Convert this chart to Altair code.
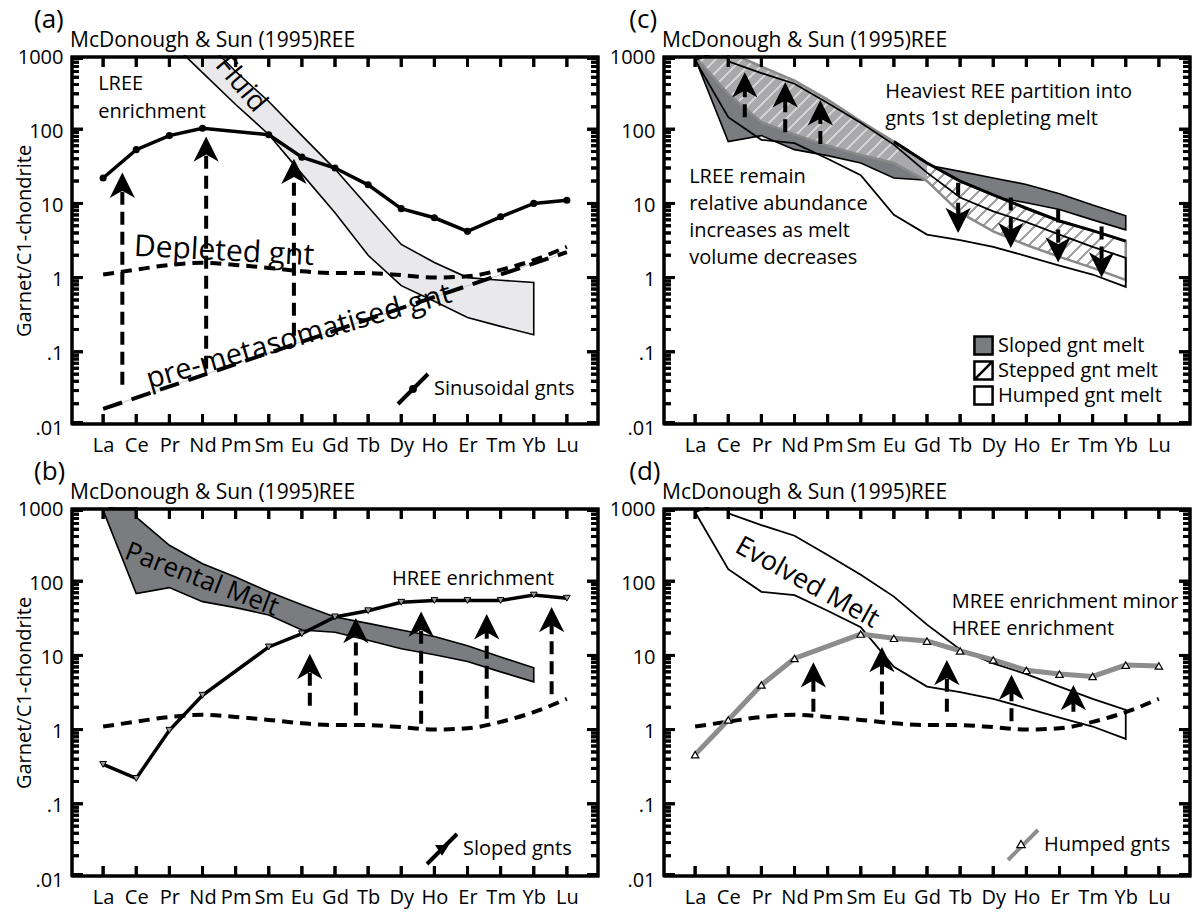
import math
import altair as alt
import pandas as pd

FONT = "Open Sans"
ELEMENTS = ["La", "Ce", "Pr", "Nd", "Pm", "Sm", "Eu", "Gd", "Tb", "Dy", "Ho", "Er", "Tm", "Yb", "Lu"]
IDX = {e: k + 1 for k, e in enumerate(ELEMENTS)}
Y_MAJOR = [0.01, 0.1, 1, 10, 100, 1000]
Y_MINOR = [m * 10.0 ** k for k in range(-2, 3) for m in range(2, 10)]
X_MIN, X_MAX = 0, 16
Y_MIN, Y_MAX = 0.01, 1000

# ---- data (Garnet / C1-chondrite) ----
SINUSOIDAL = [22, 53, 82, 103, None, 84, 42, 30, 17.8, 8.5, 6.4, 4.2, 6.6, 10, 11]
SLOPED = [0.34, 0.22, 0.98, 2.9, None, 13, 19.6, 33, 40, 52, 55, 55, 55, 65, 59]
HUMPED = [0.46, 1.35, 4.0, 9.1, None, 19.4, 17, 15.6, 11.5, 8.7, 6.3, 5.6, 5.2, 7.4, 7.2]
DEPLETED = [1.1, 1.28, 1.48, 1.58, 1.48, 1.35, 1.22, 1.15, 1.15, 1.08, 1.0, 1.04, 1.27, 1.72, 2.6]
PRE_META_EL = ["La", "Lu"]
PRE_META = [0.017, 2.2]

FLUID_UP_EL = ["Nd", "Pm", "Sm", "Eu", "Gd", "Tb", "Dy", "Ho", "Er", "Tm", "Yb"]
FLUID_UP = [1700, 600, 236, 82, 29, 9, 2.8, 1.6, 1.0, 0.92, 0.86]
FLUID_LO_EL = ["Yb", "Tm", "Er", "Ho", "Dy", "Tb", "Gd", "Eu", "Sm", "Pm", "Nd", "Pr"]
FLUID_LO = [0.17, 0.22, 0.29, 0.48, 0.78, 2.0, 7.5, 25, 85, 215, 580, 1560]

PAR_UP_EL = ["La", "Ce", "Ce", "Pr", "Nd", "Pm", "Sm", "Eu", "Gd", "Tb", "Dy", "Ho", "Er", "Tm", "Yb"]
PAR_UP = [900, 1300, 730, 305, 172, 114, 72, 48, 33, 27, 22, 18, 13.5, 9.5, 6.8]
PAR_LO_EL = ["Yb", "Tm", "Er", "Ho", "Dy", "Tb", "Gd", "Eu", "Sm", "Pm", "Nd", "Pr", "Ce"]
PAR_LO = [4.4, 6.0, 8.3, 10.2, 12.3, 16, 20.5, 22, 35, 44, 53, 82, 68]

EVO_UP_EL = ["La", "Ce", "Ce", "Pr", "Nd", "Pm", "Sm", "Eu", "Gd", "Tb", "Dy", "Ho", "Er", "Tm", "Yb"]
EVO_UP = [850, 1300, 820, 570, 410, 225, 122, 62, 26, 12, 7.8, 5.6, 3.8, 2.6, 1.85]
EVO_LO_EL = ["Yb", "Tm", "Er", "Ho", "Dy", "Tb", "Gd", "Eu", "Sm", "Pm", "Nd", "Pr", "Ce"]
EVO_LO = [0.75, 1.1, 1.45, 1.95, 2.6, 3.2, 3.8, 7, 24, 40, 65, 72, 145]

STEP_UP_EL = ["La", "Ce", "Pr", "Nd", "Pm", "Sm", "Eu", "Gd", "Tb", "Dy", "Ho", "Er", "Tm", "Yb"]
STEP_UP = [950, 1100, 700, 450, 250, 128, 68, 35, 20, 13, 8.6, 5.8, 4.3, 3.1]
STEP_LO_EL = ["Yb", "Tm", "Er", "Ho", "Dy", "Tb", "Gd", "Eu", "Sm", "Pm", "Nd", "Pr", "Ce"]
STEP_LO = [0.93, 1.35, 1.9, 2.75, 4.2, 7.5, 20, 35, 45, 60, 85, 125, 300]

# arrows: position (element index), start value, tip value
ARR_A_X = [1.58, 4.11, 6.76]
ARR_A_FROM = [0.036, 0.059, 0.165]
ARR_A_TO = [26, 80, 40]
ARR_B_X = [7.24, 8.63, 10.6, 12.58, 14.54]
ARR_B_FROM = [2.1, 1.55, 1.2, 1.4, 3.0]
ARR_B_TO = [10.5, 32, 39, 36, 45]
ARR_C_UP_X = [2.5, 3.72, 4.78]
ARR_C_UP_FROM = [145, 91, 63]
ARR_C_UP_TO = [585, 430, 245]
ARR_C_DN_X = [8.94, 10.53, 11.96, 13.27]
ARR_C_DN_FROM = [19, 12, 8.3, 4.9]
ARR_C_DN_TO = [4.0, 2.5, 1.6, 1.0]
ARR_D_X = [4.57, 6.64, 8.6, 10.55, 12.42]
ARR_D_FROM = [1.74, 1.6, 1.74, 1.3, 1.74]
ARR_D_TO = [8.1, 13, 8.7, 5.5, 4.0]

SOURCE = "McDonough & Sun (1995)REE"
LEG_C = ["Sloped gnt melt", "Stepped gnt melt", "Humped gnt melt"]

# ---- styling ----
W, H = 530, 371
DARK = "#7b7c80"
FLUID_FILL = "#e9e9ec"
STEP_GRAY = "#a9a9ab"
CLEAR = "rgba(255,255,255,0)"
UP_HEAD = "M0,0L0.8,1.6L0,1.15L-0.8,1.6Z"
DOWN_HEAD = "M0,0L0.8,-1.6L0,-1.15L-0.8,-1.6Z"
LINE_GLYPH = "M-1,1L1,-1"
DOT_GLYPH = "M-1,1L1,-1M0.13,0A0.13,0.13,0,1,1,-0.13,0A0.13,0.13,0,1,1,0.13,0Z"
TRI_GLYPH = "M-1,1L1,-1M-0.22,-0.14L0.22,-0.14L0,0.2Z"
SQ = "M-1,-1L1,-1L1,1L-1,1Z"
SQ_DIAG = "M-1,-1L1,-1L1,1L-1,1ZM-1,1L1,-1"
PX_PER_X = W / (X_MAX - X_MIN)
PX_PER_DECADE = H / (math.log10(Y_MAX) - math.log10(Y_MIN))
FRAME_INSET = 2.0          # frame line centre, px inside the plot edge
TICK_START = 3.5           # ticks start just inside the frame line
TICK_MAJOR_PX, TICK_MINOR_PX, TICK_X_PX = 13, 9, 12

XS = alt.Scale(domain=[X_MIN, X_MAX], nice=False, zero=False)
YS = alt.Scale(type="log", domain=[Y_MIN, Y_MAX], nice=False)
X_LABEL_EXPR = "[''," + ",".join("'%s'" % e for e in ELEMENTS) + "][datum.value]"
Y_LABEL_EXPR = "datum.value < 0.05 ? '.01' : datum.value < 0.5 ? '.1' : format(datum.value, 'd')"


def xaxis():
    return alt.Axis(orient="bottom", values=list(range(1, 16)), labelExpr=X_LABEL_EXPR, ticks=False,
                    domain=False, grid=False, labelFont=FONT, labelFontSize=20, labelColor="black",
                    labelPadding=9, labelAngle=0, labelFlush=False, labelOverlap=False, title=None)


def yaxis(titled):
    d = dict(orient="left", values=Y_MAJOR, labelExpr=Y_LABEL_EXPR, ticks=False, domain=False, grid=False,
             labelFont=FONT, labelFontSize=20, labelColor="black", labelPadding=7, labelFlush=False,
             labelOverlap=False, labelBaseline="middle", labelOffset=2)
    if titled:
        d.update(title="Garnet/C1-chondrite", titleFont=FONT, titleFontSize=20, titleFontWeight="normal",
                 titleColor="black", titleAngle=270, titleX=-40, titleY=H / 2, titleAlign="center",
                 titleBaseline="alphabetic")
    else:
        d.update(title=None)
    return alt.Axis(**d)


class P:
    def __init__(self, titled):
        self.ya = yaxis(titled)

    def X(self, f="i"):
        return alt.X(f"{f}:Q", scale=XS, axis=xaxis())

    def Y(self, f="v"):
        return alt.Y(f"{f}:Q", scale=YS, axis=self.ya)


def poly_df(up_el, up_v, lo_el, lo_v):
    els = list(up_el) + list(lo_el) + [up_el[0]]
    vals = list(up_v) + list(lo_v) + [up_v[0]]
    return pd.DataFrame({"i": [IDX[e] for e in els], "v": vals, "o": list(range(len(els)))})


def poly(p, df, **mk):
    return alt.Chart(df).mark_line(clip=True, **mk).encode(x=p.X(), y=p.Y(), order="o:Q")


def series_df(vals):
    rows = [(k + 1, v) for k, v in enumerate(vals) if v is not None]
    return pd.DataFrame(rows, columns=["i", "v"])


def el_df(els, vals):
    return pd.DataFrame({"i": [IDX[e] for e in els], "v": vals})


def arrows(p, xs, a, b, up=True):
    df = pd.DataFrame({"i": xs, "b": a, "t": b})
    shaft = alt.Chart(df).mark_rule(color="black", strokeWidth=4, strokeDash=[13, 7],
                                    y2Offset=16 if up else -16).encode(x=p.X(), y=p.Y("b"), y2="t:Q")
    head = alt.Chart(df).mark_point(shape=UP_HEAD if up else DOWN_HEAD, size=1000, filled=True,
                                    color="black", opacity=1, strokeWidth=0).encode(x=p.X(), y=p.Y("t"))
    return [shaft, head]


def text(p, i, v, t, **mk):
    df = pd.DataFrame({"i": [i], "v": [v], "t": [t]})
    base = dict(font=FONT, color="black", lineBreak="\n")
    base.update(mk)
    return alt.Chart(df).mark_text(**base).encode(x=p.X(), y=p.Y(), text="t:N")


# ---- frame with inward ticks, kept strictly inside the plot area ----
def x_at(px):
    return X_MIN + px / PX_PER_X


def y_at(px_from_top):
    return 10 ** (math.log10(Y_MAX) - px_from_top / PX_PER_DECADE)


def y_px(v):
    return (math.log10(Y_MAX) - math.log10(v)) * PX_PER_DECADE


def frame_layers(p):
    d = FRAME_INSET
    rect = pd.DataFrame({"i": [x_at(d), x_at(W - d), x_at(W - d), x_at(d), x_at(d)],
                         "v": [y_at(H - d), y_at(H - d), y_at(d), y_at(d), y_at(H - d)],
                         "o": [0, 1, 2, 3, 4]})
    rows = []
    n = 0
    for v in Y_MAJOR + Y_MINOR:
        ln = TICK_MAJOR_PX if v in Y_MAJOR else TICK_MINOR_PX
        yy = min(max(y_px(v), TICK_START), H - TICK_START)
        vv = y_at(yy)
        rows += [(n, x_at(TICK_START), vv), (n, x_at(ln), vv)]
        rows += [(n + 1, x_at(W - ln), vv), (n + 1, x_at(W - TICK_START), vv)]
        n += 2
    for k in range(1, 16):
        rows += [(n, k, y_at(TICK_START)), (n, k, y_at(TICK_X_PX))]
        rows += [(n + 1, k, y_at(H - TICK_X_PX)), (n + 1, k, y_at(H - TICK_START))]
        n += 2
    ticks = pd.DataFrame(rows, columns=["id", "i", "v"])

    # same geometry as one symbol path around the plot centre (symbol size 4 -> 1 unit = 1 px)
    hw, hh = W / 2, H / 2
    parts = ["M%.2f,%.2fL%.2f,%.2fL%.2f,%.2fL%.2f,%.2fZ" % (
        -hw + d, -hh + d, hw - d, -hh + d, hw - d, hh - d, -hw + d, hh - d)]
    for v in Y_MAJOR + Y_MINOR:
        ln = TICK_MAJOR_PX if v in Y_MAJOR else TICK_MINOR_PX
        yy = min(max(y_px(v), TICK_START), H - TICK_START) - hh
        parts.append("M%.2f,%.2fL%.2f,%.2f" % (-hw + TICK_START, yy, -hw + ln, yy))
        parts.append("M%.2f,%.2fL%.2f,%.2f" % (hw - ln, yy, hw - TICK_START, yy))
    for k in range(1, 16):
        xx = (k - X_MIN) * PX_PER_X - hw
        parts.append("M%.2f,%.2fL%.2f,%.2f" % (xx, -hh + TICK_START, xx, -hh + TICK_X_PX))
        parts.append("M%.2f,%.2fL%.2f,%.2f" % (xx, hh - TICK_X_PX, xx, hh - TICK_START))
    centre = pd.DataFrame({"i": [(X_MIN + X_MAX) / 2],
                           "v": [10 ** ((math.log10(Y_MIN) + math.log10(Y_MAX)) / 2)]})
    return [
        alt.Chart(rect).mark_line(color="black", strokeWidth=3).encode(x=p.X(), y=p.Y(), order="o:Q"),
        alt.Chart(ticks).mark_line(color="black", strokeWidth=3).encode(x=p.X(), y=p.Y(), detail="id:N"),
        alt.Chart(centre).mark_point(shape="".join(parts), size=4, filled=False, color="black",
                                     strokeWidth=3, opacity=1).encode(x=p.X(), y=p.Y()),
    ]


def glyph_legend(p, field, label, glyph, fill, stroke, sw, size, lx, ly, show_label=True):
    df = pd.DataFrame({"i": [8], "v": [1], field: [label]})
    kw = dict(title=None, orient="none", legendX=lx, legendY=ly, symbolType=glyph, symbolSize=size,
              symbolStrokeWidth=sw, symbolStrokeColor=stroke, symbolOpacity=1, labelFont=FONT,
              labelColor="black", labelOffset=4, padding=0, labelLimit=300)
    if show_label:
        kw.update(labelFontSize=20)
    else:
        kw.update(labelFontSize=1, labelExpr="''")
    return alt.Chart(df).mark_point(filled=True, stroke=stroke, strokeWidth=sw, opacity=0).encode(
        x=p.X(), y=p.Y(),
        fill=alt.Fill(f"{field}:N", scale=alt.Scale(domain=[label], range=[fill]), legend=alt.Legend(**kw)))


def hatch(els, vals, color, period=13.0, width=3.2):
    xs = [IDX[e] * PX_PER_X for e in els]
    ys = [y_px(v) for v in vals]
    bw, bh = max(xs) - min(xs), max(ys) - min(ys)
    span = (bw * bw + bh * bh) / bw
    stops = []
    k = 0
    while k * period < span:
        a = k * period / span
        b = min((k * period + width) / span, 1.0)
        c = min((k + 1) * period / span, 1.0)
        stops += [alt.GradientStop(color=color, offset=a), alt.GradientStop(color=color, offset=b),
                  alt.GradientStop(color=CLEAR, offset=b), alt.GradientStop(color=CLEAR, offset=c)]
        k += 1
    return alt.LinearGradient(gradient="linear", stops=stops, x1=0, y1=0, x2=1, y2=bh / bw)


def panel(p, under, over):
    layers = list(under) + frame_layers(p) + list(over)
    return alt.layer(*layers).resolve_scale(fill="independent").resolve_legend(fill="independent").properties(
        width=W, height=H,
        title=alt.TitleParams(SOURCE, anchor="start", frame="group", font=FONT, fontSize=21,
                              fontWeight="normal", color="black", offset=-4))


def indep(c):
    return c.resolve_scale(x="independent", y="independent", fill="independent").resolve_legend(
        fill="independent")


def wrap(c, letter):
    return indep(alt.vconcat(c, title=alt.TitleParams(letter, anchor="start", frame="bounds", font=FONT,
                                                       fontSize=26, fontWeight="normal", color="black",
                                                       dx=20, offset=-3)))


# ---------------- panel (a) ----------------
pa = P(True)
A = panel(pa, [
    poly(pa, poly_df(FLUID_UP_EL, FLUID_UP, FLUID_LO_EL, FLUID_LO), fill=FLUID_FILL, stroke="black",
         strokeWidth=1.6),
], [
    alt.Chart(el_df(PRE_META_EL, PRE_META)).mark_line(color="#c8c8c8", strokeWidth=1).encode(x=pa.X(), y=pa.Y()),
    alt.Chart(el_df(PRE_META_EL, PRE_META)).mark_line(color="black", strokeWidth=4, strokeDash=[20, 10]).encode(
        x=pa.X(), y=pa.Y()),
    alt.Chart(series_df(DEPLETED)).mark_line(color="black", strokeWidth=4, strokeDash=[11, 7],
                                             interpolate="monotone").encode(x=pa.X(), y=pa.Y()),
    *arrows(pa, ARR_A_X, ARR_A_FROM, ARR_A_TO),
    alt.Chart(series_df(SINUSOIDAL)).mark_line(color="black", strokeWidth=3.5).encode(x=pa.X(), y=pa.Y()),
    alt.Chart(series_df(SINUSOIDAL)).mark_point(shape="circle", size=50, filled=True, color="black",
                                                opacity=1).encode(x=pa.X(), y=pa.Y()),
    text(pa, 0.85, 407, "LREE\nenrichment", fontSize=20, align="left", baseline="middle", lineHeight=28),
    text(pa, 5.15, 400, "Fluid", fontSize=28, align="center", baseline="middle", angle=50),
    text(pa, 4.65, 2.25, "Depleted gnt", fontSize=30, align="center", baseline="middle", angle=3),
    text(pa, 6.91, 0.16, "pre-metasomatised gnt", fontSize=29, align="center", baseline="middle", angle=344),
    glyph_legend(pa, "ka", "Sinusoidal gnts", DOT_GLYPH, "black", "black", 4, 900, 326, 317),
])

# ---------------- panel (b) ----------------
pb = P(True)
B = panel(pb, [
    poly(pb, poly_df(PAR_UP_EL, PAR_UP, PAR_LO_EL, PAR_LO), fill=DARK, stroke="black", strokeWidth=1.6),
], [
    alt.Chart(series_df(DEPLETED)).mark_line(color="black", strokeWidth=4, strokeDash=[11, 7],
                                             interpolate="monotone").encode(x=pb.X(), y=pb.Y()),
    alt.Chart(series_df(SLOPED)).mark_line(color="black", strokeWidth=3.5).encode(x=pb.X(), y=pb.Y()),
    alt.Chart(series_df(SLOPED)).mark_point(shape="triangle-down", size=45, filled=True, fill="#999999",
                                            stroke="black", strokeWidth=1, opacity=1).encode(x=pb.X(), y=pb.Y()),
    *arrows(pb, ARR_B_X, ARR_B_FROM, ARR_B_TO),
    text(pb, 3.98, 105, "Parental Melt", fontSize=26, align="center", baseline="middle", angle=21),
    text(pb, 12.17, 107, "HREE enrichment", fontSize=20, align="center", baseline="middle"),
    glyph_legend(pb, "kb", "Sloped gnts", TRI_GLYPH, "#999999", "black", 4, 900, 355, 325),
])

# ---------------- panel (c) ----------------
pc = P(False)
split = STEP_UP_EL.index("Gd")
lree_up_el, lree_up = STEP_UP_EL[:split + 1], STEP_UP[:split + 1]
hree_up_el, hree_up = STEP_UP_EL[split:], STEP_UP[split:]
lo_split = STEP_LO_EL.index("Gd")
hree_lo_el, hree_lo = STEP_LO_EL[:lo_split + 1], STEP_LO[:lo_split + 1]
lree_lo_el, lree_lo = STEP_LO_EL[lo_split:], STEP_LO[lo_split:]
lree_df = poly_df(lree_up_el, lree_up, lree_lo_el, lree_lo)
hree_df = poly_df(hree_up_el, hree_up, hree_lo_el, hree_lo)
C = panel(pc, [
    poly(pc, poly_df(PAR_UP_EL, PAR_UP, PAR_LO_EL, PAR_LO), fill=DARK, stroke="black", strokeWidth=1.6),
    poly(pc, lree_df, fill=STEP_GRAY, strokeWidth=0),
    poly(pc, lree_df, fill=hatch(lree_up_el + lree_lo_el, lree_up + lree_lo, "#d2d2d2"), strokeWidth=0),
    poly(pc, hree_df, fill="white", strokeWidth=0),
    poly(pc, hree_df, fill=hatch(hree_up_el + hree_lo_el, hree_up + hree_lo, "#a2a2a2"), strokeWidth=0),
    poly(pc, poly_df(STEP_UP_EL, STEP_UP, STEP_LO_EL, STEP_LO), stroke="#8a8a8a", strokeWidth=2.5),
    alt.Chart(el_df(STEP_UP_EL[6:], STEP_UP[6:])).mark_line(color="black", strokeWidth=3).encode(
        x=pc.X(), y=pc.Y()),
    poly(pc, poly_df(EVO_UP_EL, EVO_UP, EVO_LO_EL, EVO_LO), stroke="black", strokeWidth=1.8),
], [
    *arrows(pc, ARR_C_UP_X, ARR_C_UP_FROM, ARR_C_UP_TO, up=True),
    *arrows(pc, ARR_C_DN_X, ARR_C_DN_FROM, ARR_C_DN_TO, up=False),
    text(pc, 6.74, 316, "Heaviest REE partition into\ngnts 1st depleting melt", fontSize=20, align="left",
         baseline="middle", lineHeight=27),
    text(pc, 0.82, 22.7, "LREE remain\nrelative abundance\nincreases as melt\nvolume decreases", fontSize=20,
         align="left", baseline="middle", lineHeight=27),
    glyph_legend(pc, "kc1", LEG_C[0], SQ, DARK, "black", 2.5, 330, 311, 280),
    glyph_legend(pc, "kc2", LEG_C[1], SQ_DIAG, "white", "black", 2.5, 330, 311, 305),
    glyph_legend(pc, "kc3", LEG_C[2], SQ, "white", "black", 2.5, 330, 311, 330),
])

# ---------------- panel (d) ----------------
pd_ = P(False)
D = panel(pd_, [
    poly(pd_, poly_df(EVO_UP_EL, EVO_UP, EVO_LO_EL, EVO_LO), stroke="black", strokeWidth=1.8),
], [
    alt.Chart(series_df(DEPLETED)).mark_line(color="black", strokeWidth=4, strokeDash=[11, 7],
                                             interpolate="monotone").encode(x=pd_.X(), y=pd_.Y()),
    alt.Chart(series_df(HUMPED)).mark_line(color="#8d8d8d", strokeWidth=5).encode(x=pd_.X(), y=pd_.Y()),
    alt.Chart(series_df(HUMPED)).mark_point(shape="triangle-up", size=55, filled=True, fill="white",
                                            stroke="black", strokeWidth=1.2, opacity=1).encode(
        x=pd_.X(), y=pd_.Y()),
    *arrows(pd_, ARR_D_X, ARR_D_FROM, ARR_D_TO),
    text(pd_, 4.38, 95, "Evolved Melt", fontSize=27, align="center", baseline="middle", angle=29),
    text(pd_, 8.75, 53, "MREE enrichment minor\nHREE enrichment", fontSize=20, align="left",
         baseline="middle", lineHeight=27),
    glyph_legend(pd_, "kd", "Humped gnts", LINE_GLYPH, "white", "#8d8d8d", 4, 900, 344, 321),
    glyph_legend(pd_, "kd2", "Humped marker", "triangle-up", "white", "black", 1.2, 70, 354, 332,
                 show_label=False),
])

row1 = indep(alt.hconcat(wrap(A, "(a)"), wrap(C, "(c)"), spacing=5))
row2 = indep(alt.hconcat(wrap(B, "(b)"), wrap(D, "(d)"), spacing=5))
chart = indep(alt.vconcat(row1, row2, spacing=4)).properties(
    padding={"left": 14, "top": 7, "right": 0, "bottom": 2}, background="white"
).configure_view(stroke="transparent", strokeWidth=0)

chart.save("out.html", embed_options={"renderer": "svg", "actions": False})
